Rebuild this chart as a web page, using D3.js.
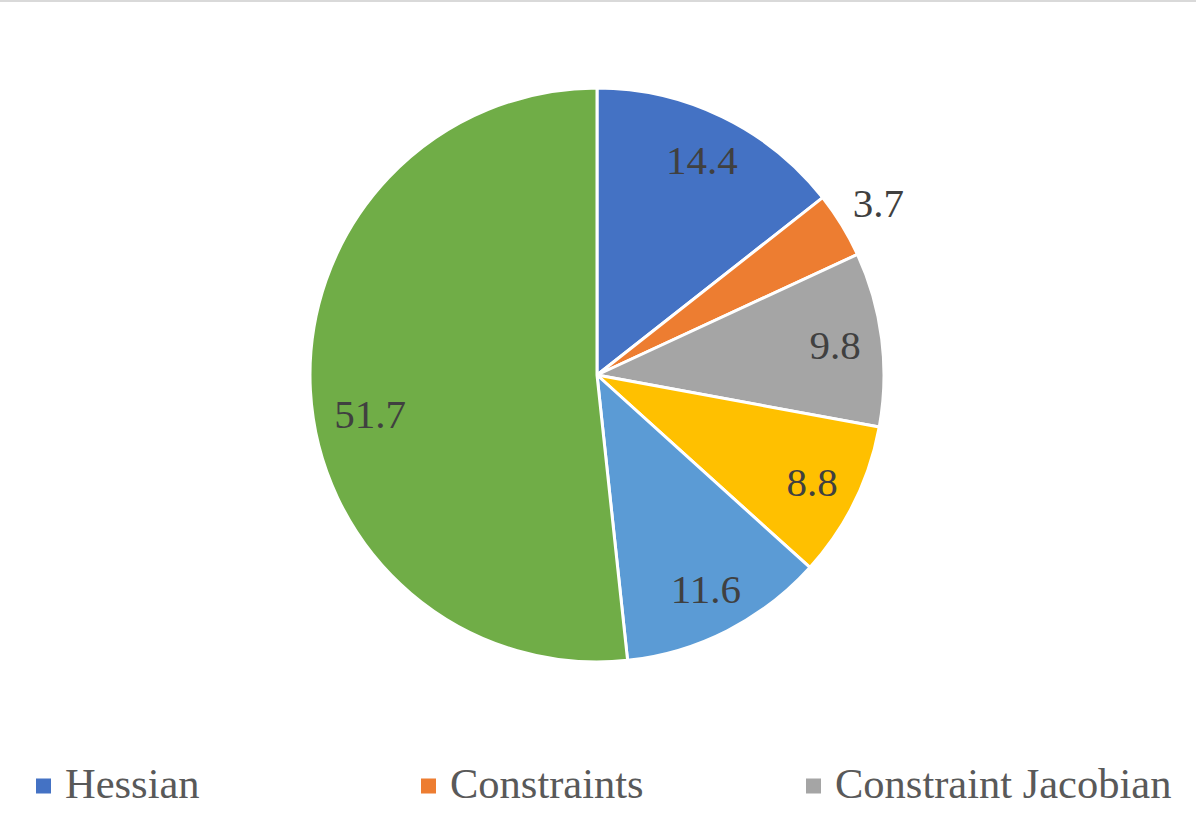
<!DOCTYPE html>
<html>
<head>
<meta charset="utf-8">
<script src="https://cdn.jsdelivr.net/npm/d3@7"></script>
<style>
  body { margin: 0; background: #fff; }
  svg { display: block; }
</style>
</head>
<body>
<script>
/* Pie chart - share of time per part */

const values = [14.4, 3.7, 9.8, 8.8, 11.6, 51.7];
const colors = ["#4472C4", "#ED7D31", "#A5A5A5", "#FFC000", "#5B9BD5", "#70AD47"];
const legendNames = ["Hessian", "Constraints", "Constraint Jacobian"];

/* Chart size */

const w = 1196,
      h = 833,
      cx = 597,
      cy = 375,
      r = 287;

const svg = d3.select("body")
              .append("svg")
              .attr("width", w)
              .attr("height", h);

/* top border line */
svg.append("rect")
   .attr("x", 0)
   .attr("y", 0)
   .attr("width", w)
   .attr("height", 2)
   .attr("fill", "#d9d9d9");

const pie = d3.pie().sort(null).value(d => d);
const arcs = pie(values);

const arc = d3.arc().innerRadius(0).outerRadius(r);
const inLabel = d3.arc().innerRadius(240).outerRadius(240);
const outLabel = d3.arc().innerRadius(330).outerRadius(330);

const g = svg.append("g")
             .attr("transform", "translate(" + cx + "," + cy + ")");

g.selectAll("path")
 .data(arcs)
 .enter()
 .append("path")
 .attr("d", arc)
 .attr("fill", (d, i) => colors[i])
 .attr("stroke", "#fff")
 .attr("stroke-width", 3)
 .attr("stroke-linejoin", "round");

/* Data labels: small slices go outside, big slice label sits a bit off mid */
function labelPos(d) {
  const span = d.endAngle - d.startAngle;
  if (span < 0.3) return outLabel.centroid(d);
  if (d.data > 50) {
    const a = d.startAngle + span * 0.465;
    const rr = 230;
    return [Math.sin(a) * rr, -Math.cos(a) * rr];
  }
  return inLabel.centroid(d);
}

g.selectAll("text")
 .data(arcs)
 .enter()
 .append("text")
 .attr("transform", d => "translate(" + labelPos(d) + ")")
 .attr("text-anchor", "middle")
 .attr("dy", "0.35em")
 .attr("font-family", "'Liberation Serif', 'Times New Roman', serif")
 .attr("font-size", 41)
 .attr("fill", "#404040")
 .text(d => d3.format(".1f")(d.data));

/* Legend */

const legendX = d3.scalePoint()
                  .domain(legendNames)
                  .range([36, 806]);

const legend = svg.append("g").attr("id", "legend");

const item = legend.selectAll("g")
                   .data(legendNames)
                   .enter()
                   .append("g")
                   .attr("transform", d => "translate(" + legendX(d) + ",786)");

item.append("rect")
    .attr("x", 0)
    .attr("y", -7.5)
    .attr("width", 15)
    .attr("height", 15)
    .attr("fill", (d, i) => colors[i]);

item.append("text")
    .attr("x", 29)
    .attr("y", 12)
    .attr("font-family", "'Liberation Serif', 'Times New Roman', serif")
    .attr("font-size", 42.5)
    .attr("fill", "#595959")
    .text(d => d);
</script>
</body>
</html>
